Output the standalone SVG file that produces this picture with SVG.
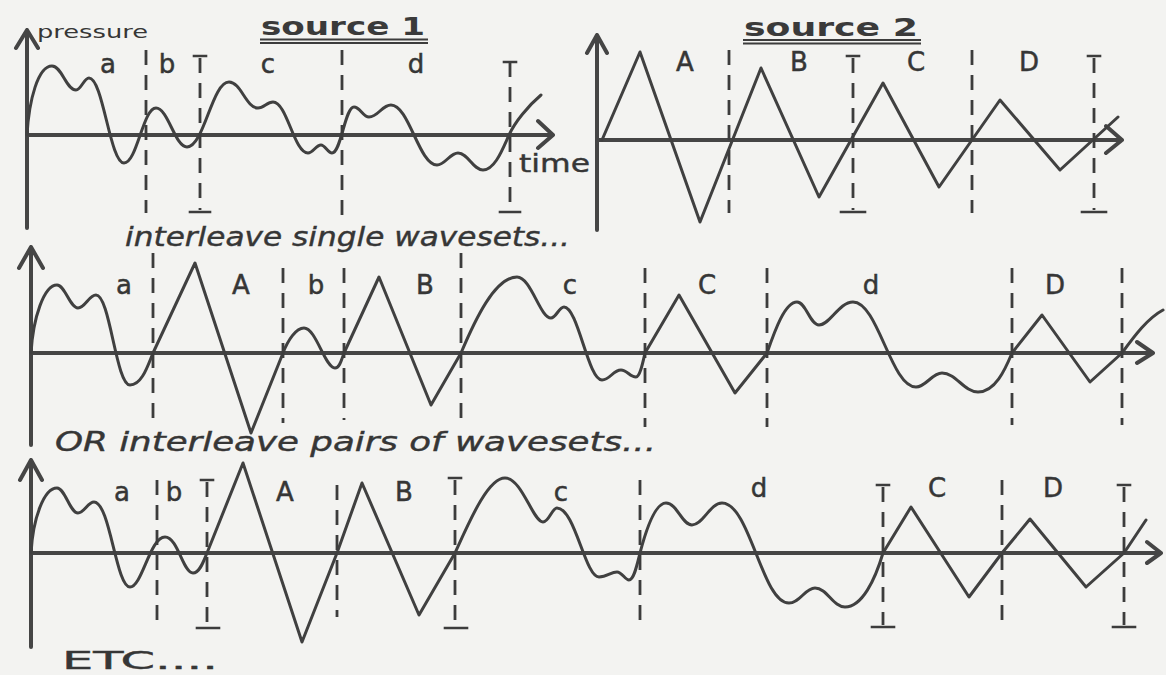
<svg xmlns="http://www.w3.org/2000/svg" width="1166" height="675" viewBox="0 0 1166 675">
<style>
.axis{fill:none;stroke:#454545;stroke-width:4;stroke-linecap:round;stroke-linejoin:round}
.wave{fill:none;stroke:#404040;stroke-width:3;stroke-linecap:round;stroke-linejoin:round}
.dash{fill:none;stroke:#3c3c3c;stroke-width:2.8;stroke-dasharray:15 10}
.bar{fill:none;stroke:#3c3c3c;stroke-width:2.6;stroke-linecap:square}
.lbl{font-family:"DejaVu Sans","Liberation Sans",sans-serif;font-size:26px;fill:#363636;text-anchor:middle;stroke:#363636;stroke-width:0.5}
.cap{font-family:"DejaVu Sans","Liberation Sans",sans-serif;font-size:26px;fill:#363636;font-style:italic;stroke:#363636;stroke-width:0.4}
.ttl{font-family:"DejaVu Sans","Liberation Sans",sans-serif;font-size:24px;font-weight:bold;fill:#3a3a3a}
</style>
<rect width="1166" height="675" fill="#f3f3f1"/>

<g id="source1">
<path class="axis" d="M27,228 V30 M16,48 L27,30 L38,48 M27,135 H553 M538,121 L553,135 L538,148"/>
<path class="wave" d="M27,135 C29,100 38,66 52,66 C62,66 66,90 76,90 C81,90 84,78 89,78 C103,78 110,163 124,163 C137,163 143,108 156,108 C168,108 175,147 187,147 C204,147 212,82 229,82 C241,82 246,108 258,108 C264,108 267,102 273,102 C287,102 294,153 308,153 C313,153 316,145 321,145 C325,145 328,153 332,153 C341,153 345,107 354,107 C360,107 363,117 369,117 C378,117 382,105 391,105 C409,105 419,165 437,165 C445,165 450,153 458,153 C468,153 473,170 483,170 C495,170 503,148 509,135 C515,122 528,106 541,95"/>
<path class="dash" d="M146,50 V213 M200,58 V210 M342,50 V218 M510,62 V210"/>
<path class="bar" d="M194,56 H206 M190,212 H210 M504,62 H516 M500,212 H520"/>
<text class="lbl" x="108" y="73">a</text>
<text class="lbl" x="167" y="73">b</text>
<text class="lbl" x="268" y="73">c</text>
<text class="lbl" x="416" y="73">d</text>
<text x="37" y="38" font-family="DejaVu Sans, sans-serif" font-size="18" fill="#363636" textLength="111" lengthAdjust="spacingAndGlyphs">pressure</text>
<text x="519" y="172" font-family="DejaVu Sans, sans-serif" font-size="24" fill="#363636" stroke="#363636" stroke-width="0.4" textLength="71" lengthAdjust="spacingAndGlyphs">time</text>
<text class="ttl" x="261" y="35" textLength="164" lengthAdjust="spacingAndGlyphs">source 1</text>
<path class="bar" d="M261,39.5 H427 M261,43 H427" style="stroke-width:2"/>
</g>

<g id="source2">
<path class="axis" d="M597,230 V35 M587,53 L597,35 L607,53 M597,140 H1122 M1106,126 L1122,140 L1106,153"/>
<path class="wave" d="M602,140 L640,52 L700,222 L761,68 L819,197 L883,83 L939,187 L1000,100 L1060,170 L1118,117"/>
<path class="dash" d="M729,50 V213 M853,58 V210 M972,50 V213 M1094,58 V210"/>
<path class="bar" d="M847,56 H859 M841,212 H865 M1088,56 H1100 M1082,212 H1106"/>
<text class="lbl" x="685" y="71">A</text>
<text class="lbl" x="799" y="71">B</text>
<text class="lbl" x="916" y="71">C</text>
<text class="lbl" x="1029" y="71">D</text>
<text class="ttl" x="744" y="36" textLength="174" lengthAdjust="spacingAndGlyphs">source 2</text>
<path class="bar" d="M744,40 H920 M744,43.5 H920" style="stroke-width:2"/>
</g>

<g id="single-wavesets">
<text class="cap" x="125" y="246" textLength="445" lengthAdjust="spacingAndGlyphs">interleave single wavesets...</text>
<path class="axis" d="M31,445 V247 M19,268 L31,247 L43,268 M31,353 H1153 M1137,342 L1153,353 L1137,363"/>
<path class="wave" d="M31,353 C33,318 44,285 57,285 C65,285 70,308 78,308 C85,308 89,295 96,295 C110,295 116,385 130,385 C142,385 148,365 153,353 L195,263 L251,433 L283,353 C288,340 296,328 304,328 C316,328 325,368 335,368 C340,368 342,358 344,353 L379,277 L431,405 L461,353 C475,320 495,277 517,277 C531,277 540,318 551,318 C556,318 559,307 564,307 C578,307 588,380 602,380 C610,380 613,370 621,370 C627,370 630,377 636,377 C640,377 643,362 645,353 L679,295 L735,393 L767,353 C775,330 785,302 797,302 C806,302 810,325 819,325 C830,325 839,302 853,302 C878,302 891,387 916,387 C926,387 932,373 942,373 C956,373 964,392 978,392 C995,392 1005,370 1012,353 L1042,315 L1090,382 L1122,353 C1135,335 1148,318 1163,310"/>
<path class="dash" d="M153,253 V423 M283,268 V423 M344,268 V420 M461,253 V423 M645,268 V427 M767,268 V427 M1012,268 V425 M1122,268 V425"/>
<text class="lbl" x="124" y="294">a</text>
<text class="lbl" x="241" y="294">A</text>
<text class="lbl" x="316" y="294">b</text>
<text class="lbl" x="425" y="294">B</text>
<text class="lbl" x="570" y="294">c</text>
<text class="lbl" x="707" y="294">C</text>
<text class="lbl" x="871" y="294">d</text>
<text class="lbl" x="1055" y="294">D</text>
</g>

<g id="pairs-wavesets">
<text class="cap" x="55" y="451" textLength="601" lengthAdjust="spacingAndGlyphs">OR  interleave pairs of wavesets...</text>
<path class="axis" d="M31,647 V460 M20,480 L31,460 L42,480 M31,553 H1161 M1147,542 L1161,553 L1147,563"/>
<path class="wave" d="M31,553 C33,518 44,488 57,488 C65,488 70,513 78,513 C84,513 88,502 94,502 C110,502 116,587 130,587 C142,587 150,537 165,537 C178,537 183,573 193,573 C200,573 204,560 207,553 L243,463 L302,642 L337,553 L362,483 L419,615 L455,553 C470,520 488,478 505,478 C522,478 533,522 543,522 C549,522 552,508 557,508 C575,508 585,577 599,577 C607,577 611,572 617,572 C622,572 625,580 629,580 C634,580 637,565 640,553 C646,530 655,503 666,503 C677,503 682,525 692,525 C703,525 710,503 722,503 C750,503 762,603 789,603 C800,603 805,588 815,588 C827,588 833,607 845,607 C862,607 875,580 883,553 L911,507 L969,597 L1002,553 L1030,519 L1086,587 L1124,553 L1146,520"/>
<path class="dash" d="M157,480 V627 M207,482 V626 M337,485 V617 M455,480 V626 M640,480 V625 M883,487 V625 M1002,480 V625 M1124,487 V625"/>
<path class="bar" d="M201,480 H213 M197,628 H219 M449,478 H461 M445,628 H467 M877,485 H889 M872,627 H894 M1118,485 H1130 M1113,627 H1135"/>
<text class="lbl" x="122" y="501">a</text>
<text class="lbl" x="174" y="501">b</text>
<text class="lbl" x="285" y="501">A</text>
<text class="lbl" x="404" y="501">B</text>
<text class="lbl" x="561" y="501">c</text>
<text class="lbl" x="759" y="497">d</text>
<text class="lbl" x="937" y="497">C</text>
<text class="lbl" x="1053" y="497">D</text>
<text x="62" y="669" font-family="DejaVu Sans, sans-serif" font-size="24" fill="#363636" stroke="#363636" stroke-width="0.4" textLength="156" lengthAdjust="spacingAndGlyphs">ETC....</text>
</g>
</svg>
